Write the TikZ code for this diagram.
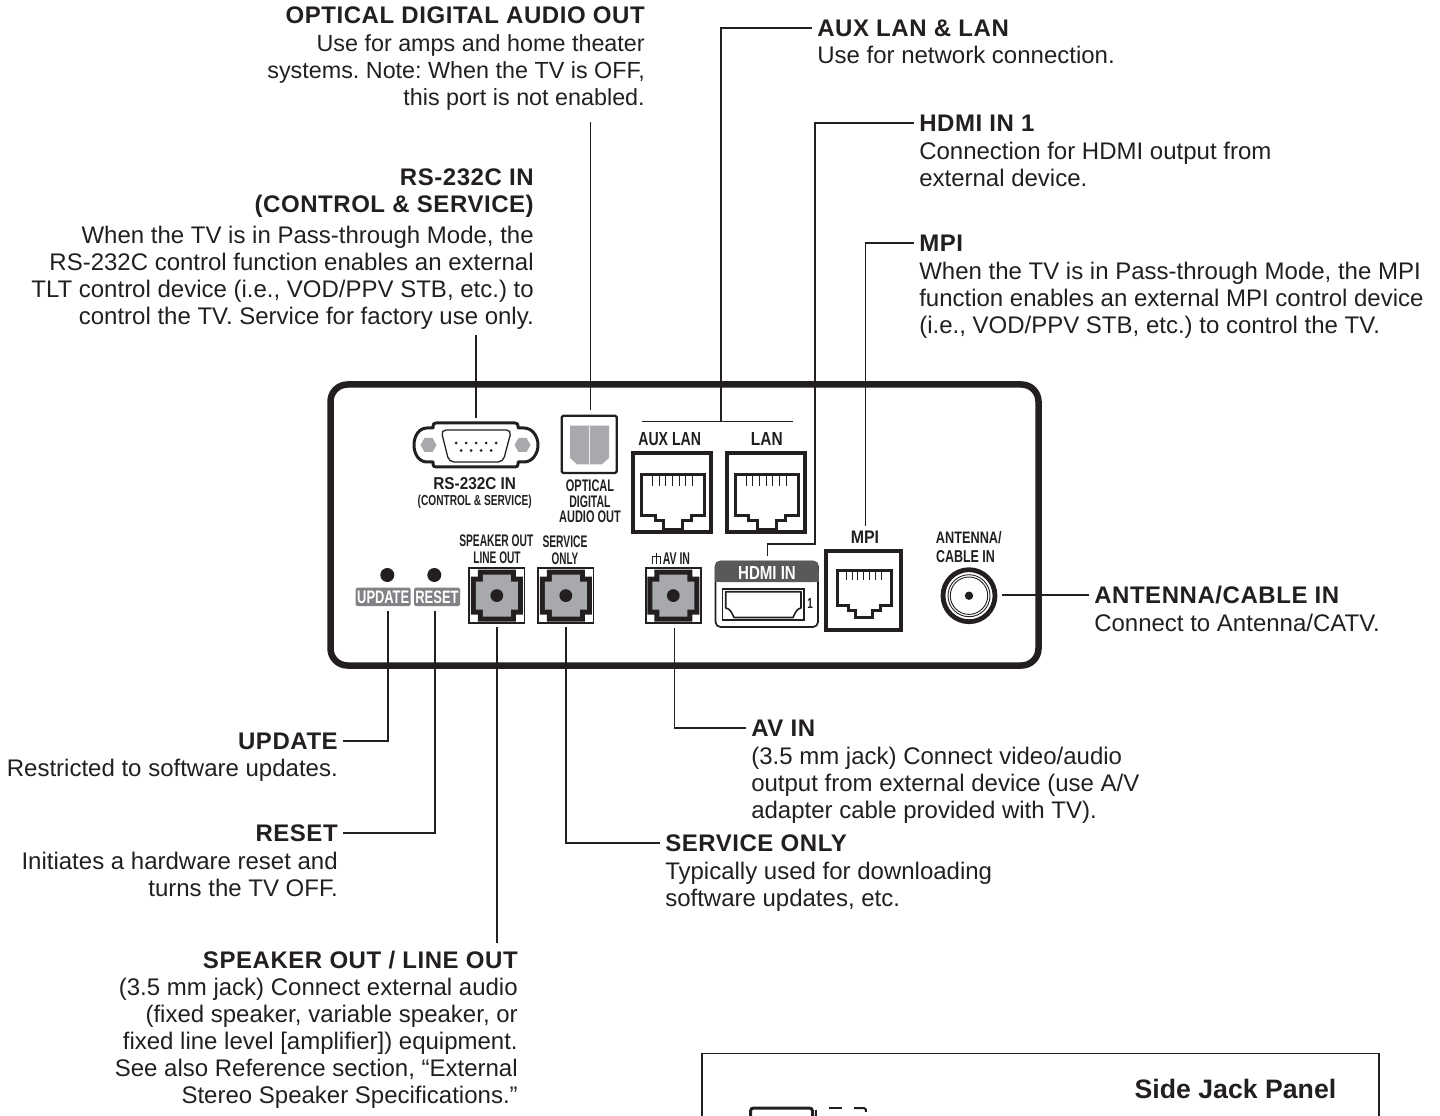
\documentclass[tikz,border=0pt]{standalone}
\usepackage{fontspec}
\usepackage{graphicx}
\setmainfont{Liberation Sans}
\newfontfamily\titlefam[LetterSpace=2.3]{Liberation Sans}
\usetikzlibrary{calc}
\definecolor{ink}{HTML}{231F20}
\definecolor{portgray}{HTML}{A7A9AC}
\definecolor{headgray}{HTML}{58595B}
\definecolor{pillgray}{HTML}{808285}
\newdimen\ppx \ppx=.75pt
\tikzset{
  bodytext/.style={font=\fontsize{18}{20.25}\selectfont, inner sep=0pt, text=ink},
  titletext/.style={font=\fontsize{18}{20.4}\selectfont\titlefam\bfseries, inner xsep=5\ppx, inner ysep=0pt, text=ink},
  conn/.style={draw=ink, line width=1.3\ppx},
  frame/.style={draw=ink, line width=4\ppx},
  panel/.style={draw=ink, line width=6.5\ppx, rounded corners=17\ppx},
}
% name, cx, cy, width, cap height, colour, text
\newcommand{\plab}[7]{\node[inner sep=0pt, text=#6] (#1) at (#2,#3)
  {\resizebox{#4\ppx}{#5\ppx}{\fontsize{16}{16}\selectfont\bfseries #7}};}
% top-left of inner outline, scale
\newcommand{\rjport}[3]{\begin{scope}[shift={(#1,#2)}, scale=#3]
  \draw[ink, line width=3\ppx, line join=miter] (0,0) -- (62.7,0) -- (62.7,40.7) -- (50,40.7) -- (50,46.3) -- (41,46.3) -- (41,54.7) -- (21.7,54.7) -- (21.7,46.3) -- (13.3,46.3) -- (13.3,40.7) -- (0,40.7) -- cycle;
  \foreach \tx in {10.7,17.4,24,30.7,37.4,44,50.7}
    \draw[ink, line width=.9\ppx] (\tx,2) -- (\tx,12);
\end{scope}}
% centre of jack
\newcommand{\jackport}[2]{\begin{scope}[shift={(#1,#2)}]
  \draw[ink, line width=1.6\ppx, fill=white] (-27.6,-27.6) rectangle (27.6,27.6);
  \fill[ink] (-26,-19) -- (-19,-19) -- (-19,-26) -- (19,-26) -- (19,-19) -- (26,-19) -- (26,19) -- (19,19) -- (19,26) -- (-19,26) -- (-19,19) -- (-26,19) -- cycle;
  \fill[portgray] (-21,-14) -- (-14,-14) -- (-14,-21) -- (14,-21) -- (14,-14) -- (21,-14) -- (21,14) -- (14,14) -- (14,21) -- (-14,21) -- (-14,14) -- (-21,14) -- cycle;
  \fill[ink] (0,0) circle (6.4);
\end{scope}}
\begin{document}
\frenchspacing
\begin{tikzpicture}[x=.75pt,y=-.75pt]
\useasboundingbox (0,0) rectangle (1440,1116);
\begin{scope}
\clip (0,0) rectangle (1440,1116);

% ---------- side panel (cut by the page edge)
\draw[ink, line width=1.5\ppx] (702,1200) -- (702,1053.7) -- (1379,1053.7) -- (1379,1200);
\node[font=\fontsize{20}{20}\selectfont\bfseries, text=ink, inner sep=0pt, anchor=base] (sidetitle) at (1235.5,1098) {Side Jack Panel};
\draw[ink, line width=3\ppx, rounded corners=3\ppx] (750.5,1130) -- (750.5,1108) -- (812.5,1108) -- (812.5,1130);
\draw[ink, line width=1.2\ppx] (816,1110) -- (816,1130);
\draw[ink, line width=2\ppx] (829,1108) -- (842,1108);
\draw[ink, line width=2\ppx] (854,1108) -- (864,1108) .. controls (866,1108) and (866,1110) .. (866,1112);

% ---------- main panel
\draw[panel] (330.5,384.5) rectangle (1038.5,665.5);

% ---------- RS-232
\draw[ink, line width=3\ppx, fill=white, line join=round]
  (433,428) -- (433,426) .. controls (433,424) and (434,423) .. (436,423) -- (515,423) .. controls (517,423) and (518,424) .. (518,426) -- (518,428) -- (524,428)
  .. controls (532,428) and (538,436) .. (538,445) .. controls (538,454) and (532,462) .. (524,462)
  -- (518,462) -- (518,464) .. controls (518,466) and (517,467) .. (515,467) -- (436,467) .. controls (434,467) and (433,466) .. (433,464) -- (433,462) -- (427,462)
  .. controls (419,462) and (414,454) .. (414,445) .. controls (414,436) and (419,428) .. (427,428) -- cycle;
\draw[ink, line width=1.3\ppx, rounded corners=5\ppx] (441,430) -- (511.5,430) -- (503,462) -- (449,462) -- cycle;
\foreach \hx in {428.5,522.5}
  \fill[portgray] (\hx-8,445) -- (\hx-4,438) -- (\hx+4,438) -- (\hx+8,445) -- (\hx+4,452) -- (\hx-4,452) -- cycle;
\foreach \dx in {456,466,476,486,496} \fill[ink] (\dx,443) circle (1.5);
\foreach \dx in {461,471,481,491} \fill[ink] (\dx,450.5) circle (1.5);
\plab{rslab}{474.7}{484}{82.7}{12}{ink}{RS-232C IN}
\plab{rslab2}{474.7}{502}{114}{10.5}{ink}{(CONTROL \& SERVICE)}

% ---------- optical
\draw[ink, line width=2.3\ppx, fill=white, rounded corners=1.5\ppx] (561.7,415.7) rectangle (616.7,473);
\fill[portgray] (570,425.7) -- (609,425.7) -- (609,458) -- (602,464.3) -- (577,464.3) -- (570,458) -- cycle;
\draw[white!80!portgray, line width=.8\ppx] (589.5,425.7) -- (589.5,464.3);
\plab{optlab1}{590}{485.8}{48.3}{11.7}{ink}{OPTICAL}
\plab{optlab2}{590}{501.5}{41.3}{11.7}{ink}{DIGITAL}
\plab{optlab3}{590}{517}{61.7}{11.7}{ink}{AUDIO OUT}

% ---------- LAN
\draw[frame] (633,453) rectangle (711.3,532);
\draw[frame] (727,453) rectangle (804.7,532);
\draw[frame] (826.3,551) rectangle (901.3,629.7);
\rjport{641.7}{474.3}{1}
\rjport{735.5}{474.3}{1}
\rjport{837}{570}{.87}
\plab{auxlab}{669.7}{439}{62.7}{13}{ink}{AUX LAN}
\plab{lanlab}{766.8}{439}{31.7}{13}{ink}{LAN}
\plab{mpilab}{865}{537}{28.3}{12.5}{ink}{MPI}
\plab{antlab1}{968.8}{538}{65.7}{12}{ink}{ANTENNA/}
\plab{antlab2}{965.5}{556.7}{59}{12}{ink}{CABLE IN}

% ---------- buttons
\fill[ink] (387.3,575) circle (7);
\fill[ink] (434.3,575) circle (7);
\fill[pillgray, rounded corners=1.5\ppx] (355.7,587.7) rectangle (410.7,606);
\fill[pillgray, rounded corners=1.5\ppx] (414,587.7) rectangle (460,606);
\plab{updlab}{383.2}{597}{52}{12.5}{white}{UPDATE}
\plab{reslab}{437}{597}{43.3}{12.5}{white}{RESET}

% ---------- jacks
\jackport{496.8}{595.6}
\jackport{565.8}{595.6}
\jackport{673.3}{595.6}
\plab{spklab1}{496.3}{540.8}{74}{11.7}{ink}{SPEAKER OUT}
\plab{spklab2}{497}{557.5}{47.3}{11.7}{ink}{LINE OUT}
\plab{srvlab1}{565}{541.5}{45}{11.7}{ink}{SERVICE}
\plab{srvlab2}{565}{558.3}{26.7}{11.7}{ink}{ONLY}
\plab{avlab}{676.4}{558.3}{27.3}{11.7}{ink}{AV IN}
\draw[ink, line width=.9\ppx] (652,563.5) -- (652,556.5) -- (660,556.5) -- (660,563.5) (656,552.5) -- (656,563.5);

% ---------- HDMI
\draw[ink, line width=1.7\ppx, fill=white, rounded corners=5\ppx] (715.5,561.5) rectangle (818,627);
\fill[headgray, rounded corners=5\ppx] (715,582) -- (715,561) -- (818.5,561) -- (818.5,582) -- cycle;
\fill[headgray] (715,572) rectangle (818.5,582);
\draw[ink, line width=1.3\ppx] (722.7,589) rectangle (804,620);
\draw[ink, line width=1.6\ppx, line join=round] (725.7,591.7) -- (801,591.7) -- (801,608) .. controls (797,609) and (796,611) .. (793,617.5) -- (734,617.5) .. controls (731,611) and (730,609) .. (725.7,608) -- cycle;
\plab{hdmilab}{767}{572.5}{57.7}{13}{white}{HDMI IN}
\plab{hdmione}{810.2}{603}{5.5}{10}{ink}{1}

% ---------- antenna jack
\draw[ink, line width=4.8\ppx] (969,595.7) circle (26);
\draw[ink, line width=.9\ppx] (969,595.7) circle (21);
\draw[ink, line width=.9\ppx] (969,595.7) circle (18.7);
\fill[ink] (969,595.7) circle (4.2);

% ---------- text blocks
\node[titletext, anchor=east] (optt) at (650,15) {OPTICAL DIGITAL AUDIO OUT};
\node[bodytext, font=\fontsize{17.5}{20.25}\selectfont, anchor=north east, align=right] (optb) at (645,34)
  {Use for amps and home theater\\systems. Note: When the TV is OFF,\\this port is not enabled.};

\node[titletext, anchor=north east, align=right] (rst) at (539,168)
  {RS-232C IN\\(CONTROL \& SERVICE)};
\node[bodytext, anchor=north east, align=right] (rsb) at (534,226)
  {When the TV is in Pass-through Mode, the\\RS-232C control function enables an external\\TLT control device (i.e., VOD/PPV STB, etc.) to\\control the TV. Service for factory use only.};

\node[titletext, anchor=west] (auxt) at (812,28) {AUX LAN \& LAN};
\node[bodytext, anchor=north west] (auxb) at (817,46) {Use for network connection.};

\node[titletext, anchor=west] (hdmit) at (914,123) {HDMI IN 1};
\node[bodytext, anchor=north west, align=left] (hdmib) at (919,142)
  {Connection for HDMI output from\\external device.};

\node[titletext, anchor=west] (mpit) at (914,243) {MPI};
\node[bodytext, anchor=north west, align=left] (mpib) at (919,262)
  {When the TV is in Pass-through Mode, the MPI\\function enables an external MPI control device\\(i.e., VOD/PPV STB, etc.) to control the TV.};

\node[titletext, anchor=west] (antt) at (1089,595) {ANTENNA/CABLE IN};
\node[bodytext, anchor=north west] (antb) at (1094,614) {Connect to Antenna/CATV.};

\node[titletext, anchor=east] (updt) at (343,741) {UPDATE};
\node[bodytext, anchor=north east] (updb) at (338,759) {Restricted to software updates.};

\node[titletext, anchor=east] (rest) at (343,833) {RESET};
\node[bodytext, anchor=north east, align=right] (resb) at (338,852)
  {Initiates a hardware reset and\\turns the TV OFF.};

\node[titletext, anchor=east] (spkt) at (523,960) {SPEAKER OUT / LINE OUT};
\node[bodytext, anchor=north east, align=right] (spkb) at (518,978)
  {(3.5 mm jack) Connect external audio\\(fixed speaker, variable speaker, or\\fixed line level [amplifier]) equipment.\\See also Reference section, “External\\Stereo Speaker Specifications.”};

\node[titletext, anchor=west] (srvt) at (660,843) {SERVICE ONLY};
\node[bodytext, anchor=north west, align=left] (srvb) at (665,862)
  {Typically used for downloading\\software updates, etc.};

\node[titletext, anchor=west] (avt) at (746,728) {AV IN};
\node[bodytext, anchor=north west, align=left] (avb) at (751,747)
  {(3.5 mm jack) Connect video/audio\\output from external device (use A/V\\adapter cable provided with TV).};

% ---------- connector ends
\coordinate (rsup) at (476,335);
\coordinate (rsdn) at (476,418);
\coordinate (optup) at (590.7,122);
\coordinate (optdn) at (590.7,410);
\coordinate (barl) at (641.7,421.7);
\coordinate (barr) at (792.7,421.7);
\coordinate (barm) at (721,421.7);
\coordinate (hdmip) at (767.7,556);
\coordinate (hdmic) at (815,544);
\coordinate (mpip) at (865.7,525.7);
\coordinate (antp) at (1002,595);
\coordinate (updp) at (388,611);
\coordinate (resp) at (435,611);
\coordinate (spkp) at (497,627);
\coordinate (spke) at (497,943);
\coordinate (srvp) at (566,627);
\coordinate (avp) at (674.3,628);

% ---------- connectors
\draw[conn] (rsup) -- (rsdn);
\draw[conn] (optup) -- (optdn);
\draw[conn] (barl) -- (barr);
\draw[conn] (auxt.west) -| (barm);
\draw[conn] (hdmit.west) -| (hdmic) -| (hdmip);
\draw[conn] (mpit.west) -| (mpip);
\draw[conn] (antt.west) -- (antp);
\draw[conn] (updt.east) -| (updp);
\draw[conn] (rest.east) -| (resp);
\draw[conn] (spke) -- (spkp);
\draw[conn] (srvt.west) -| (srvp);
\draw[conn] (avt.west) -| (avp);
\end{scope}
\end{tikzpicture}
\end{document}
